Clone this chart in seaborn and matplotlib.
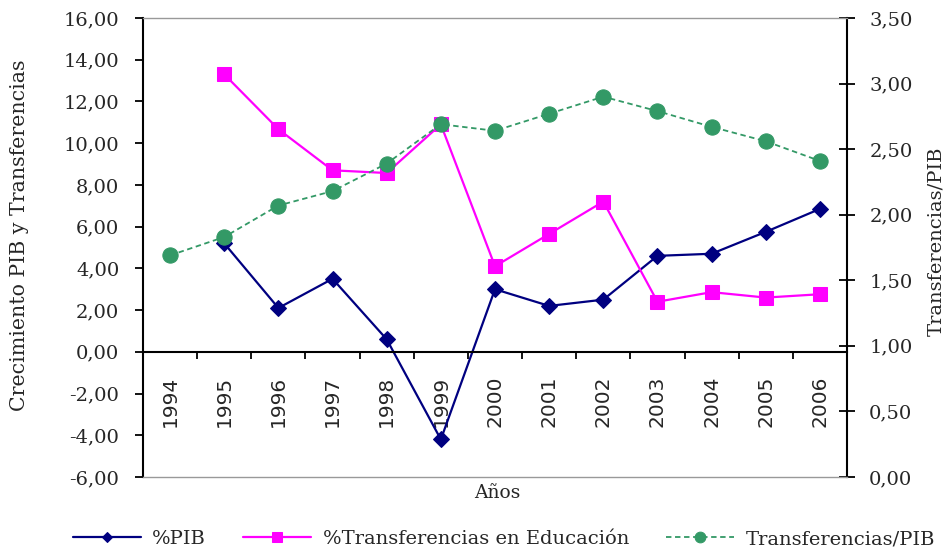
import numpy as np
import pandas as pd
import matplotlib
matplotlib.use("Agg")
import matplotlib.pyplot as plt
import seaborn as sns
from matplotlib.ticker import FuncFormatter, FixedLocator

years = ["1994", "1995", "1996", "1997", "1998", "1999", "2000",
         "2001", "2002", "2003", "2004", "2005", "2006"]
pib = [np.nan, 5.2, 2.1, 3.5, 0.6, -4.2, 3.0, 2.2, 2.5, 4.6, 4.7, 5.75, 6.85]
transf_edu = [np.nan, 13.3, 10.67, 8.7, 8.57, 10.9, 4.1, 5.65, 7.2, 2.4, 2.86, 2.6, 2.76]
transf_pib = [1.69, 1.83, 2.07, 2.18, 2.39, 2.69, 2.64, 2.77, 2.90, 2.79, 2.67, 2.56, 2.41]

sns.set_theme(style="white")
plt.rcParams['font.family'] = ['DejaVu Serif']

df = pd.DataFrame({"pos": np.arange(len(years)), "year": years,
                   "pib": pib, "edu": transf_edu, "tp": transf_pib})

fig = plt.figure(figsize=(9.46, 5.48), dpi=100)
ax = fig.add_axes([143/946, 1-477/548, (847-143)/946, (477-18)/548])
ax2 = ax.twinx()

navy = "#000080"
mag = "#FF00FF"
green = "#339966"

sns.lineplot(data=df, x="pos", y="pib", ax=ax, color=navy, lw=1.6,
             marker="D", markersize=8, markeredgecolor=navy, label="%PIB", legend=False)
sns.lineplot(data=df, x="pos", y="edu", ax=ax, color=mag, lw=1.6,
             marker="s", markersize=10.5, markeredgecolor=mag,
             label="%Transferencias en Educación", legend=False)
sns.lineplot(data=df, x="pos", y="tp", ax=ax2, color=green, lw=1.3,
             linestyle=(0, (3, 2)), marker="o", markersize=11, markeredgecolor=green,
             label="Transferencias/PIB", legend=False)

ax.set_xlim(-0.5, len(years) - 0.5)
ax.set_ylim(-6, 16)
ax2.set_ylim(0, 3.5)
ax.set_yticks(np.arange(-6, 16.01, 2))
ax2.set_yticks(np.arange(0, 3.51, 0.5))
fmt = FuncFormatter(lambda v, p: f"{v:.2f}".replace(".", ","))
ax.yaxis.set_major_formatter(fmt)
ax2.yaxis.set_major_formatter(fmt)

# x axis at y=0
ax.spines['bottom'].set_position(('data', 0))
ax.spines['bottom'].set_color('black')
ax.spines['bottom'].set_linewidth(1.5)
ax.spines['top'].set_visible(False)
ax.spines['right'].set_visible(False)
ax.spines['left'].set_color('black')
ax.spines['left'].set_linewidth(1.5)
for s in ['top', 'bottom']:
    ax2.spines[s].set_color('#999999')
    ax2.spines[s].set_linewidth(1.0)
ax2.spines['left'].set_visible(False)
ax2.spines['right'].set_color('black')
ax2.spines['right'].set_linewidth(1.5)

ax.set_xticks(df["pos"])
ax.set_xticklabels(years, rotation=90, family='DejaVu Sans', fontsize=14.5)
ax.xaxis.set_minor_locator(FixedLocator(np.arange(0.5, len(years) - 1, 1)))
ax.tick_params(axis='x', which='major', length=0, pad=17, bottom=True)
ax.tick_params(axis='x', which='minor', length=5, width=1.3, direction='out', color='black', bottom=True)
ax.tick_params(axis='y', which='major', length=6, width=1.3, direction='out',
               color='black', labelsize=14, pad=11, left=True)
ax2.tick_params(axis='y', which='major', length=12, width=1.3, direction='inout',
                color='black', labelsize=14, pad=10, right=True)

ax.set_ylabel("Crecimiento PIB y Transferencias", fontsize=14.8)
ax2.set_ylabel("Transferencias/PIB", fontsize=14)
ax.yaxis.set_label_coords((29-143)/704, 1-(235-18)/459)
ax2.yaxis.set_label_coords((927-143)/704, 1-(241-18)/459)
ax.set_xlabel("")
ax2.set_xlabel("")
fig.text(497/946, 1-493/548, "Años", ha='center', va='center', fontsize=13.5)

h1, l1 = ax.get_legend_handles_labels()
h2, l2 = ax2.get_legend_handles_labels()
fig.legend(h1 + h2, l1 + l2, loc='center', bbox_to_anchor=(504/946, 1-539/548),
           ncol=3, frameon=False, fontsize=14, handlelength=3.5, columnspacing=1.9,
           handletextpad=0.6, markerscale=0.7)

fig.savefig("out.png", dpi=100)
